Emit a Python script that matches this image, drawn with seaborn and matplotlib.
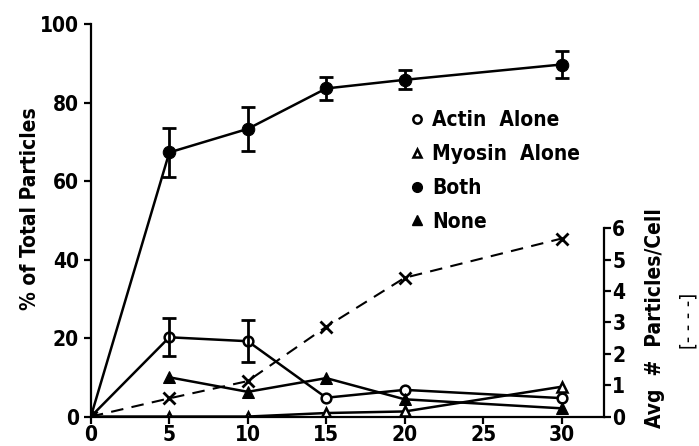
import numpy as np
import pandas as pd
import matplotlib
matplotlib.use("Agg")
import matplotlib.pyplot as plt
import seaborn as sns
from matplotlib.lines import Line2D

# data (time in minutes)
time_all = [0, 5, 10, 15, 20, 30]
time_none = [5, 10, 15, 20, 30]

both = [0, 67.3, 73.3, 83.6, 85.8, 89.7]
both_err = [0, 6.3, 5.7, 3.0, 2.4, 3.4]
actin = [0, 20.2, 19.2, 4.8, 6.8, 4.7]
actin_err = [0, 4.8, 5.3, 0, 0, 0]
myosin = [0, 0, 0, 0.9, 1.3, 7.6]
none = [10.0, 6.3, 9.8, 4.4, 2.1]
avg_particles = [0, 0.58, 1.13, 2.86, 4.42, 5.67]

x_ticks = [0, 5, 10, 15, 20, 25, 30]
y_ticks = [0, 20, 40, 60, 80, 100]
y2_ticks = [0, 1, 2, 3, 4, 5, 6]

sns.set_style("ticks")
plt.rcParams['font.family'] = ['DejaVu Sans']
plt.rcParams['font.stretch'] = 'condensed'
plt.rcParams['font.weight'] = 'bold'
for key in ['text.color', 'axes.labelcolor', 'xtick.color', 'ytick.color', 'axes.edgecolor']:
    plt.rcParams[key] = 'black'

fig = plt.figure(figsize=(6.99, 4.46), dpi=100)
ax = fig.add_axes([0.130, 0.066, 0.734, 0.880])

lw = 1.8
black = 'black'

# main series
sns.lineplot(x=time_all, y=both, ax=ax, color=black, lw=lw, marker='o', markersize=9,
             markerfacecolor=black, markeredgecolor=black)
ax.errorbar(time_all[1:], both[1:], yerr=both_err[1:], fmt='none', ecolor=black,
            elinewidth=2, capsize=5, capthick=2)

sns.lineplot(x=time_all, y=actin, ax=ax, color=black, lw=lw, marker='o', markersize=7,
             markerfacecolor='white', markeredgecolor=black, markeredgewidth=1.8)
ax.errorbar(time_all[1:3], actin[1:3], yerr=actin_err[1:3], fmt='none', ecolor=black,
            elinewidth=2, capsize=5, capthick=2)

sns.lineplot(x=time_all, y=myosin, ax=ax, color=black, lw=lw, marker='^', markersize=7,
             markerfacecolor='white', markeredgecolor=black, markeredgewidth=1.8)

sns.lineplot(x=time_none, y=none, ax=ax, color=black, lw=lw, marker='^', markersize=9,
             markerfacecolor=black, markeredgecolor=black)

ax.set_xlim(0, 32.7)
ax.set_ylim(0, 100)
ax.set_xticks(x_ticks)
ax.set_yticks(y_ticks)
ax.tick_params(labelsize=15, width=1.6, length=5, direction='out')
ax.tick_params(axis='x', pad=1)
for side in ['top', 'right']:
    ax.spines[side].set_visible(False)
for side in ['left', 'bottom']:
    ax.spines[side].set_linewidth(1.6)
ax.set_ylabel('% of Total Particles', fontsize=15, fontweight='bold')
ax.yaxis.set_label_coords(-0.10, 0.53)
ax.set_xlabel('')

# right axis: avg particles per cell (dashed)
ax2 = ax.twinx()
sns.lineplot(x=time_all, y=avg_particles, ax=ax2, color=black, lw=1.5, linestyle='--',
             marker='x', markersize=8, markeredgewidth=2, markeredgecolor=black)
ax2.lines[0].set_dashes([6, 4])
ax2.set_ylim(0, 12.5)
ax2.set_yticks(y2_ticks)
ax2.spines['right'].set_bounds(0, 6)
ax2.spines['right'].set_linewidth(1.6)
for side in ['top', 'left', 'bottom']:
    ax2.spines[side].set_visible(False)
ax2.tick_params(labelsize=15, width=1.6, length=5, direction='out', pad=1)
ax2.set_ylabel('')

fig.text(0.937, 0.287, 'Avg  #  Particles/Cell', rotation=90, ha='center', va='center',
         fontsize=15, fontweight='bold')
fig.text(0.985, 0.280, '[- - - -]', rotation=90, ha='center', va='center',
         fontsize=14, fontweight='normal')

# legend
handles = [
    Line2D([], [], ls='none', marker='o', markersize=6, markerfacecolor='white',
           markeredgecolor=black, markeredgewidth=1.8),
    Line2D([], [], ls='none', marker='^', markersize=6, markerfacecolor='white',
           markeredgecolor=black, markeredgewidth=1.8),
    Line2D([], [], ls='none', marker='o', markersize=7, color=black),
    Line2D([], [], ls='none', marker='^', markersize=7, color=black),
]
labels = ['Actin  Alone', 'Myosin  Alone', 'Both', 'None']
ax.legend(handles, labels, loc='upper left', bbox_to_anchor=(0.624, 0.78), frameon=False,
          fontsize=15, handlelength=0.6, handletextpad=0.4, labelspacing=0.66,
          borderpad=0, borderaxespad=0)

fig.savefig('out.png', dpi=100)
